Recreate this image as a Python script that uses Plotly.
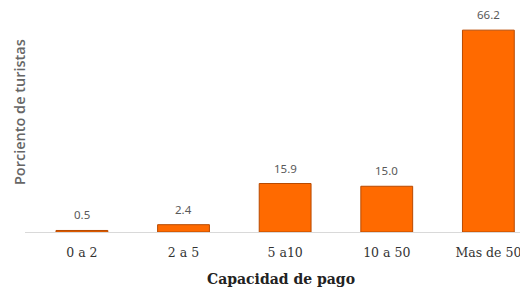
import plotly.graph_objects as go

categories = ["0 a 2", "2 a 5", "5 a10", "10 a 50", "Mas de 50"]
values = [0.5, 2.4, 15.9, 15.0, 66.2]
value_labels = ["0.5", "2.4", "15.9", "15.0", "66.2"]

fig = go.Figure()
fig.add_trace(go.Bar(
    x=categories, y=values,
    marker=dict(color="#FF6A00", line=dict(color="#B84A00", width=1)),
    width=0.51,
    hoverinfo="skip",
))
for c, v, t in zip(categories, values, value_labels):
    fig.add_annotation(x=c, y=v, text=t, showarrow=False, yanchor="bottom", yshift=6,
                       font=dict(family="Noto Sans", size=11.5, color="#595959"))

fig.add_annotation(xref="paper", yref="paper", x=0.509, y=-0.165, yanchor="top",
                   text="<b>Capacidad de pago</b>", showarrow=False,
                   font=dict(family="DejaVu Serif", size=14, color="#222222"))
fig.add_annotation(xref="paper", yref="paper", x=-0.012, y=0.54, xanchor="center",
                   text="Porciento de turistas", textangle=-90, showarrow=False,
                   borderpad=0,
                   font=dict(family="Open Sans", size=14.5, weight=600, color="#666666"))

# figure is offset by the page's 8px body margin
fig.update_layout(
    width=520, height=285,
    margin=dict(l=17, r=0, t=2, b=61),
    plot_bgcolor="white", paper_bgcolor="white",
    showlegend=False,
    xaxis=dict(range=[-0.56, 4.39], showline=True, linecolor="#D9D9D9", linewidth=1,
               ticks="", ticklabelstandoff=9,
               tickfont=dict(family="DejaVu Serif", size=12.5, color="#333333"),
               showgrid=False),
    yaxis=dict(range=[0, 72.8], visible=False, showgrid=False),
)
fig.write_html("out.html")
